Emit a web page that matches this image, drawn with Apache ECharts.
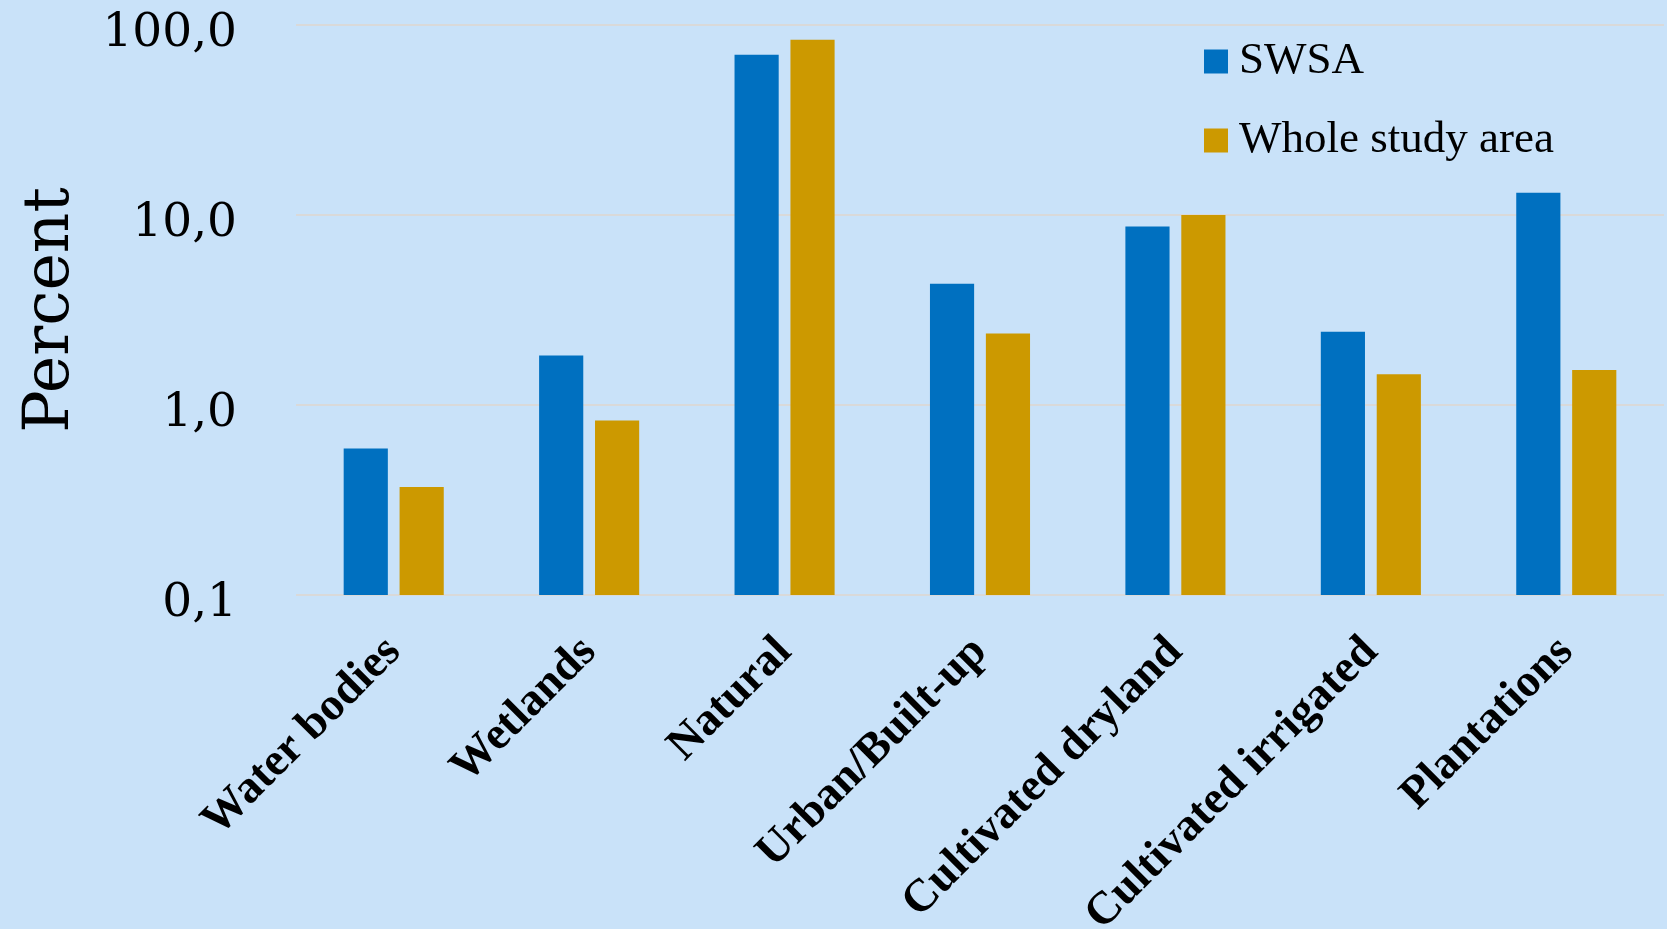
<!DOCTYPE html>
<html>
<head>
<meta charset="utf-8">
<script src="https://cdn.jsdelivr.net/npm/echarts@6/dist/echarts.min.js"></script>
<style>
  html, body { margin: 0; padding: 0; background: #C9E2F9; }
  #chart { width: 1667px; height: 929px; }
</style>
</head>
<body>
<div id="chart"></div>
<script>
const categories = ['Water bodies', 'Wetlands', 'Natural', 'Urban/Built-up', 'Cultivated dryland', 'Cultivated irrigated', 'Plantations'];
const seriesNames = ['SWSA', 'Whole study area'];
const swsaValues = [0.59, 1.82, 69.7, 4.35, 8.7, 2.43, 13.1];
const wholeValues = [0.37, 0.83, 83.6, 2.38, 10.0, 1.45, 1.53];
const yTicks = [0.1, 1, 10, 100];
const yAxisTitle = 'Percent';

const chart = echarts.init(document.getElementById('chart'), null, { renderer: 'canvas' });
const option = {
  backgroundColor: '#C9E2F9',
  animation: false,
  grid: { left: 296, right: 3, top: 25, bottom: 334, containLabel: false, outerBoundsMode: 'none' },
  legend: {
    data: seriesNames,
    orient: 'vertical',
    left: 1199,
    top: 34,
    icon: 'rect',
    itemWidth: 24,
    itemHeight: 24,
    itemGap: 34,
    textStyle: { fontFamily: 'Liberation Serif', fontSize: 45, color: '#000', padding: [0, 0, 0, 6] }
  },
  xAxis: {
    type: 'category',
    data: categories,
    axisLine: { show: false },
    axisTick: { show: false },
    axisLabel: {
      interval: 0,
      rotate: 45,
      margin: 50,
      fontFamily: 'Liberation Serif',
      fontWeight: 'bold',
      fontSize: 46,
      color: '#000'
    }
  },
  yAxis: {
    type: 'log',
    logBase: 10,
    min: yTicks[0],
    max: yTicks[yTicks.length - 1],
    startValue: yTicks[0],
    name: yAxisTitle,
    nameLocation: 'middle',
    nameGap: 213,
    nameTextStyle: { fontFamily: 'DejaVu Serif', fontSize: 63, color: '#000' },
    axisLine: { show: false },
    axisTick: { show: false },
    splitLine: { show: true, lineStyle: { color: '#D9D9D9', width: 2 } },
    axisLabel: {
      margin: 59,
      fontFamily: 'DejaVu Serif',
      fontSize: 47,
      color: '#000',
      verticalAlign: 'top',
      lineHeight: 18,
      formatter: function (v) { return v.toFixed(1).replace('.', ','); }
    }
  },
  series: [
    {
      name: seriesNames[0],
      type: 'bar',
      data: swsaValues,
      barWidth: '22.6%',
      barGap: '26.6%',
      itemStyle: { color: '#0070C0' }
    },
    {
      name: seriesNames[1],
      type: 'bar',
      data: wholeValues,
      barWidth: '22.6%',
      barGap: '26.6%',
      itemStyle: { color: '#CC9900' }
    }
  ]
};
chart.setOption(option);
</script>
</body>
</html>
